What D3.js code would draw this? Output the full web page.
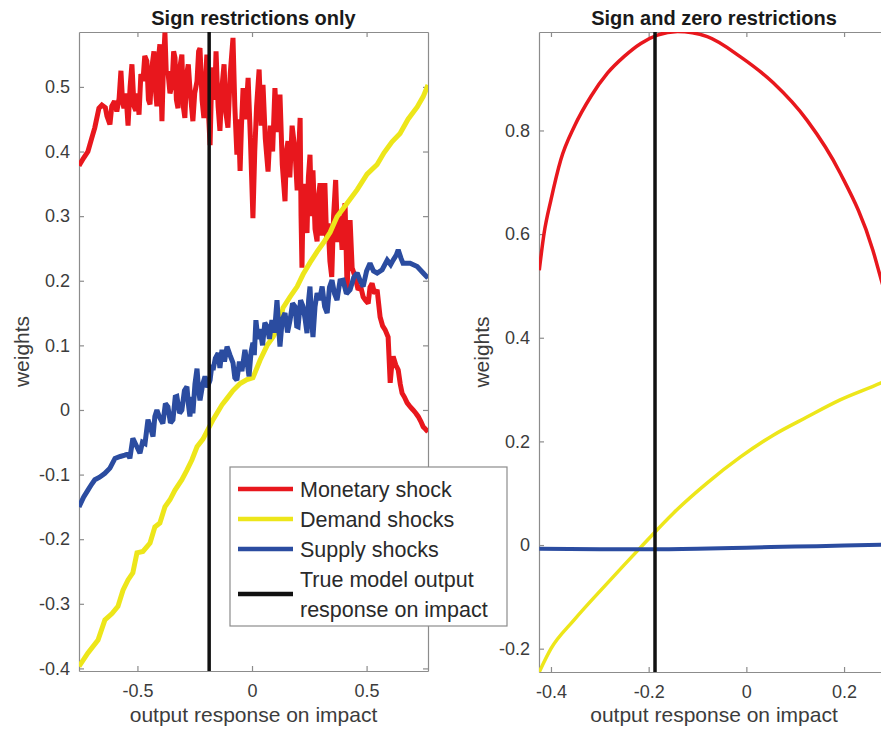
<!DOCTYPE html>
<html>
<head>
<meta charset="utf-8">
<script src="https://cdn.jsdelivr.net/npm/d3@7"></script>
<style>
html,body{margin:0;padding:0;background:#fff;}
svg{display:block;font-family:"Liberation Sans",Arial,Helvetica,sans-serif;}
</style>
</head>
<body>
<svg id="chart" width="881" height="729"></svg>
<script>
// ---------- DATA ----------
const titles = ["Sign restrictions only", "Sign and zero restrictions"];
const xLabel = "output response on impact";
const yLabel = "weights";
const seriesNames = ["Monetary shock", "Demand shocks", "Supply shocks", "True model output", "response on impact"];
const trueImpact = -0.187;

const leftXTicks = [-0.5, 0, 0.5];
const leftYTicks = [-0.4, -0.3, -0.2, -0.1, 0, 0.1, 0.2, 0.3, 0.4, 0.5];
const rightXTicks = [-0.4, -0.2, 0, 0.2];
const rightYTicks = [-0.2, 0, 0.2, 0.4, 0.6, 0.8];

// Left panel: sign restrictions only
const leftMonetary = [
[-0.755,0.378],[-0.735,0.39],[-0.716,0.40],[-0.700,0.42],[-0.686,0.437],[-0.668,0.467],[-0.655,0.472],
[-0.640,0.468],[-0.633,0.455],[-0.620,0.442],[-0.612,0.470],[-0.600,0.478],[-0.590,0.462],[-0.580,0.482],
[-0.572,0.525],[-0.565,0.478],[-0.559,0.467],[-0.550,0.49],[-0.541,0.44],[-0.532,0.50],[-0.524,0.535],
[-0.515,0.47],[-0.507,0.463],[-0.500,0.49],[-0.493,0.457],[-0.485,0.52],[-0.476,0.509],[-0.468,0.548],
[-0.459,0.54],[-0.452,0.48],[-0.445,0.473],[-0.437,0.53],[-0.428,0.555],[-0.420,0.49],[-0.415,0.47],
[-0.408,0.545],[-0.402,0.566],[-0.397,0.50],[-0.393,0.447],[-0.386,0.54],[-0.380,0.584],[-0.374,0.52],
[-0.367,0.524],[-0.358,0.49],[-0.349,0.503],[-0.342,0.555],[-0.336,0.545],[-0.330,0.48],[-0.323,0.467],
[-0.315,0.53],[-0.306,0.55],[-0.300,0.47],[-0.293,0.452],[-0.285,0.52],[-0.278,0.535],[-0.271,0.498],
[-0.264,0.47],[-0.258,0.447],[-0.250,0.49],[-0.240,0.509],[-0.233,0.555],[-0.227,0.56],[-0.218,0.48],
[-0.210,0.452],[-0.203,0.51],[-0.197,0.55],[-0.190,0.46],[-0.183,0.41],[-0.177,0.50],[-0.170,0.53],
[-0.163,0.48],[-0.157,0.555],[-0.148,0.47],[-0.140,0.432],[-0.131,0.50],[-0.122,0.535],[-0.114,0.46],
[-0.105,0.437],[-0.095,0.52],[-0.083,0.576],[-0.075,0.47],[-0.066,0.395],[-0.059,0.45],[-0.052,0.37],
[-0.046,0.44],[-0.039,0.498],[-0.028,0.45],[-0.017,0.514],[-0.007,0.42],[0.004,0.297],[0.012,0.40],
[0.020,0.47],[0.031,0.527],[0.040,0.44],[0.048,0.503],[0.058,0.42],[0.070,0.369],[0.080,0.44],
[0.090,0.40],[0.100,0.498],[0.110,0.43],[0.122,0.488],[0.132,0.38],[0.144,0.323],[0.150,0.40],
[0.157,0.416],[0.165,0.36],[0.175,0.44],[0.188,0.40],[0.197,0.34],[0.210,0.452],[0.214,0.30],
[0.218,0.22],[0.224,0.35],[0.231,0.302],[0.240,0.274],[0.246,0.36],[0.253,0.395],[0.260,0.30],
[0.266,0.371],[0.275,0.28],[0.284,0.261],[0.290,0.33],[0.297,0.351],[0.304,0.27],[0.310,0.30],
[0.318,0.351],[0.326,0.26],[0.332,0.289],[0.340,0.23],[0.348,0.206],[0.356,0.30],[0.365,0.356],
[0.374,0.26],[0.384,0.30],[0.393,0.248],[0.400,0.30],[0.406,0.320],[0.415,0.186],[0.422,0.26],
[0.428,0.294],[0.437,0.22],[0.450,0.206],[0.463,0.186],[0.475,0.19],[0.485,0.175],[0.495,0.17],
[0.507,0.165],[0.515,0.19],[0.524,0.196],[0.535,0.18],[0.546,0.186],[0.559,0.144],[0.570,0.13],
[0.581,0.124],[0.594,0.113],[0.603,0.042],[0.610,0.07],[0.616,0.083],[0.627,0.07],[0.638,0.062],
[0.647,0.04],[0.655,0.026],[0.665,0.02],[0.677,0.011],[0.690,0.005],[0.703,0.0],[0.715,-0.005],
[0.725,-0.010],[0.737,-0.018],[0.747,-0.026],[0.758,-0.03],[0.768,-0.034]
];
const leftDemand = [
[-0.755,-0.397],[-0.716,-0.376],[-0.672,-0.356],[-0.642,-0.325],[-0.611,-0.315],[-0.585,-0.304],[-0.563,-0.279],
[-0.541,-0.263],[-0.520,-0.252],[-0.502,-0.221],[-0.476,-0.219],[-0.445,-0.206],[-0.424,-0.181],[-0.402,-0.175],
[-0.380,-0.150],[-0.358,-0.139],[-0.336,-0.124],[-0.306,-0.108],[-0.284,-0.093],[-0.262,-0.077],[-0.240,-0.057],
[-0.214,-0.045],[-0.192,-0.030],[-0.170,-0.015],[-0.153,-0.005],[-0.131,0.008],[-0.109,0.018],[-0.083,0.030],
[-0.052,0.041],[-0.022,0.047],[0.004,0.050],[0.035,0.077],[0.066,0.100],[0.092,0.113],[0.122,0.134],
[0.135,0.158],[0.166,0.175],[0.197,0.191],[0.223,0.210],[0.253,0.228],[0.284,0.245],[0.310,0.258],
[0.341,0.275],[0.371,0.299],[0.415,0.320],[0.459,0.341],[0.502,0.365],[0.546,0.380],[0.576,0.398],
[0.611,0.415],[0.646,0.428],[0.681,0.450],[0.721,0.469],[0.747,0.485],[0.768,0.503]
];
const leftSupply = [
[-0.755,-0.150],[-0.735,-0.135],[-0.716,-0.124],[-0.700,-0.115],[-0.686,-0.108],[-0.665,-0.104],[-0.642,-0.098],
[-0.620,-0.09],[-0.598,-0.075],[-0.575,-0.072],[-0.555,-0.070],[-0.540,-0.068],[-0.533,-0.075],[-0.520,-0.044],
[-0.505,-0.055],[-0.489,-0.067],[-0.478,-0.050],[-0.467,-0.052],[-0.454,-0.015],[-0.445,-0.025],[-0.432,-0.041],
[-0.424,-0.010],[-0.415,0.0],[-0.405,-0.01],[-0.389,-0.021],[-0.378,0.01],[-0.367,0.005],[-0.356,-0.02],
[-0.345,-0.015],[-0.335,0.02],[-0.328,0.021],[-0.316,-0.005],[-0.306,0.0],[-0.295,0.03],[-0.284,0.036],
[-0.278,0.01],[-0.271,-0.010],[-0.263,0.02],[-0.258,-0.005],[-0.249,0.04],[-0.240,0.064],[-0.233,0.03],
[-0.227,0.015],[-0.215,0.04],[-0.205,0.052],[-0.195,0.035],[-0.183,0.046],[-0.175,0.07],[-0.170,0.062],
[-0.160,0.08],[-0.148,0.088],[-0.140,0.065],[-0.131,0.093],[-0.120,0.075],[-0.109,0.098],[-0.096,0.085],
[-0.083,0.073],[-0.075,0.05],[-0.066,0.046],[-0.055,0.075],[-0.044,0.060],[-0.031,0.093],[-0.022,0.075],
[-0.013,0.052],[-0.004,0.09],[0.004,0.104],[0.010,0.085],[0.017,0.139],[0.026,0.11],[0.035,0.125],
[0.046,0.10],[0.056,0.135],[0.066,0.129],[0.076,0.11],[0.087,0.139],[0.098,0.12],[0.109,0.170],
[0.116,0.13],[0.122,0.098],[0.132,0.14],[0.144,0.150],[0.155,0.12],[0.166,0.139],[0.177,0.165],
[0.188,0.160],[0.195,0.13],[0.201,0.129],[0.212,0.17],[0.223,0.160],[0.232,0.14],[0.240,0.119],
[0.247,0.17],[0.253,0.191],[0.260,0.14],[0.266,0.113],[0.275,0.16],[0.284,0.181],[0.295,0.17],
[0.306,0.191],[0.317,0.16],[0.328,0.150],[0.338,0.19],[0.349,0.201],[0.360,0.18],[0.371,0.170],
[0.384,0.20],[0.397,0.201],[0.412,0.18],[0.428,0.186],[0.444,0.205],[0.459,0.212],[0.472,0.20],
[0.485,0.191],[0.500,0.215],[0.515,0.227],[0.530,0.215],[0.546,0.212],[0.568,0.217],[0.590,0.232],
[0.605,0.225],[0.616,0.232],[0.630,0.24],[0.638,0.248],[0.650,0.235],[0.659,0.227],[0.690,0.227],
[0.721,0.222],[0.747,0.212],[0.768,0.204]
];

// Right panel: sign and zero restrictions
const rightMonetary = [
[-0.424,0.530],[-0.414,0.602],[-0.400,0.666],[-0.380,0.743],[-0.352,0.808],[-0.318,0.866],[-0.284,0.911],
[-0.250,0.943],[-0.216,0.968],[-0.182,0.984],[-0.141,0.991],[-0.080,0.981],[-0.012,0.942],[0.055,0.892],
[0.124,0.820],[0.192,0.718],[0.259,0.569],[0.276,0.512],[0.292,0.46]
];
const rightDemand = [
[-0.424,-0.245],[-0.400,-0.200],[-0.353,-0.145],[-0.284,-0.073],[-0.216,-0.004],[-0.149,0.062],
[-0.080,0.120],[-0.012,0.170],[0.055,0.212],[0.124,0.247],[0.192,0.280],[0.276,0.313],[0.292,0.320]
];
const rightSupply = [
[-0.424,-0.007],[-0.3,-0.008],[-0.2,-0.008],[-0.1,-0.007],[0,-0.005],[0.1,-0.003],[0.2,-0.001],[0.292,0.001]
];

const leftXDomain = [-0.755, 0.768];
const leftYDomain = [-0.404, 0.585];
const rightXDomain = [-0.4245, 0.292];
const rightYDomain = [-0.245, 0.990];

// ---------- DRAW ----------
const colors = {red:"#e8171d", yellow:"#ede61a", blue:"#2b4ca0", black:"#111111"};
const svg = d3.select("#chart");

function panel(cfg) {
  const {x0, x1, y0, y1} = cfg;
  const x = d3.scaleLinear().domain(cfg.xDomain).range([x0, x1]);
  const y = d3.scaleLinear().domain(cfg.yDomain).range([y1, y0]);
  const g = svg.append("g");
  const clipId = "clip" + cfg.id;
  svg.append("clipPath").attr("id", clipId).append("rect")
    .attr("x", x0).attr("y", y0).attr("width", x1 - x0).attr("height", y1 - y0);

  const fmt = d => (Math.abs(d) < 1e-9 ? "0" : String(+d.toFixed(1)));
  const axisColor = "#8c8c8c";
  const textColor = "#3c3c3c";

  const bottom = g.append("g").attr("transform", `translate(0,${y1})`)
    .call(d3.axisBottom(x).tickValues(cfg.xTicks).tickFormat(fmt).tickSizeInner(-5).tickSizeOuter(0).tickPadding(13));
  const top = g.append("g").attr("transform", `translate(0,${y0})`)
    .call(d3.axisTop(x).tickValues(cfg.xTicks).tickFormat("").tickSizeInner(-5).tickSizeOuter(0));
  const left = g.append("g").attr("transform", `translate(${x0},0)`)
    .call(d3.axisLeft(y).tickValues(cfg.yTicks).tickFormat(fmt).tickSizeInner(-5).tickSizeOuter(0).tickPadding(9));
  const right = g.append("g").attr("transform", `translate(${x1},0)`)
    .call(d3.axisRight(y).tickValues(cfg.yTicks).tickFormat("").tickSizeInner(-5).tickSizeOuter(0));
  [bottom, top, left, right].forEach(a => {
    a.selectAll("path,line").attr("stroke", axisColor).attr("stroke-width", 1.2);
    a.selectAll("text").attr("fill", textColor).attr("font-size", 18)
      .attr("font-family", "'Liberation Sans',Arial,sans-serif");
  });

  const line = d3.line().x(d => x(d[0])).y(d => y(d[1])).curve(cfg.curve);
  const lines = g.append("g").attr("clip-path", `url(#${clipId})`);
  cfg.series.forEach(s => {
    lines.append("path").datum(s.data).attr("d", line)
      .attr("fill", "none").attr("stroke", s.color).attr("stroke-width", s.width)
      .attr("stroke-linejoin", "miter").attr("stroke-miterlimit", 2);
  });
  lines.append("line")
    .attr("x1", x(trueImpact)).attr("x2", x(trueImpact))
    .attr("y1", y(cfg.yDomain[0])).attr("y2", y(cfg.yDomain[1]))
    .attr("stroke", colors.black).attr("stroke-width", 3.5);

  svg.append("text").attr("x", (x0 + x1) / 2).attr("y", 25)
    .attr("text-anchor", "middle").attr("font-size", 20).attr("font-weight", "bold")
    .attr("fill", "#1a1a1a").text(cfg.title);
  svg.append("text").attr("x", (x0 + x1) / 2).attr("y", 722)
    .attr("text-anchor", "middle").attr("font-size", 21).attr("fill", textColor).text(xLabel);
  svg.append("text")
    .attr("transform", `translate(${cfg.yLabelX},${(y0 + y1) / 2}) rotate(-90)`)
    .attr("text-anchor", "middle").attr("dy", "0.35em")
    .attr("font-size", 21).attr("fill", textColor).text(yLabel);
}

panel({
  id: "L", x0: 79, x1: 428, y0: 32, y1: 671,
  xDomain: leftXDomain, yDomain: leftYDomain, xTicks: leftXTicks, yTicks: leftYTicks,
  title: titles[0], yLabelX: 22, curve: d3.curveLinear,
  series: [
    {data: leftMonetary, color: colors.red, width: 5},
    {data: leftDemand, color: colors.yellow, width: 5},
    {data: leftSupply, color: colors.blue, width: 5}
  ]
});
panel({
  id: "R", x0: 539, x1: 889, y0: 32, y1: 672,
  xDomain: rightXDomain, yDomain: rightYDomain, xTicks: rightXTicks, yTicks: rightYTicks,
  title: titles[1], yLabelX: 482, curve: d3.curveMonotoneX,
  series: [
    {data: rightMonetary, color: colors.red, width: 3.5},
    {data: rightDemand, color: colors.yellow, width: 3.5},
    {data: rightSupply, color: colors.blue, width: 4}
  ]
});

// Legend
const lg = svg.append("g");
lg.append("rect").attr("x", 230).attr("y", 467).attr("width", 277).attr("height", 159)
  .attr("fill", "#fff").attr("stroke", "#8c8c8c").attr("stroke-width", 1.2);
const legendItems = [
  {label: [seriesNames[0]], color: colors.red, base: [497]},
  {label: [seriesNames[1]], color: colors.yellow, base: [527]},
  {label: [seriesNames[2]], color: colors.blue, base: [557]},
  {label: [seriesNames[3], seriesNames[4]], color: colors.black, base: [587, 617]}
];
legendItems.forEach(it => {
  const ly = d3.mean(it.base) - 8;
  lg.append("line").attr("x1", 238).attr("x2", 293).attr("y1", ly).attr("y2", ly)
    .attr("stroke", it.color).attr("stroke-width", 4.5);
  it.label.forEach((t, i) => {
    lg.append("text").attr("x", 300).attr("y", it.base[i]).attr("font-size", 21.5)
      .attr("fill", "#2a2a2a").text(t);
  });
});
</script>
</body>
</html>
